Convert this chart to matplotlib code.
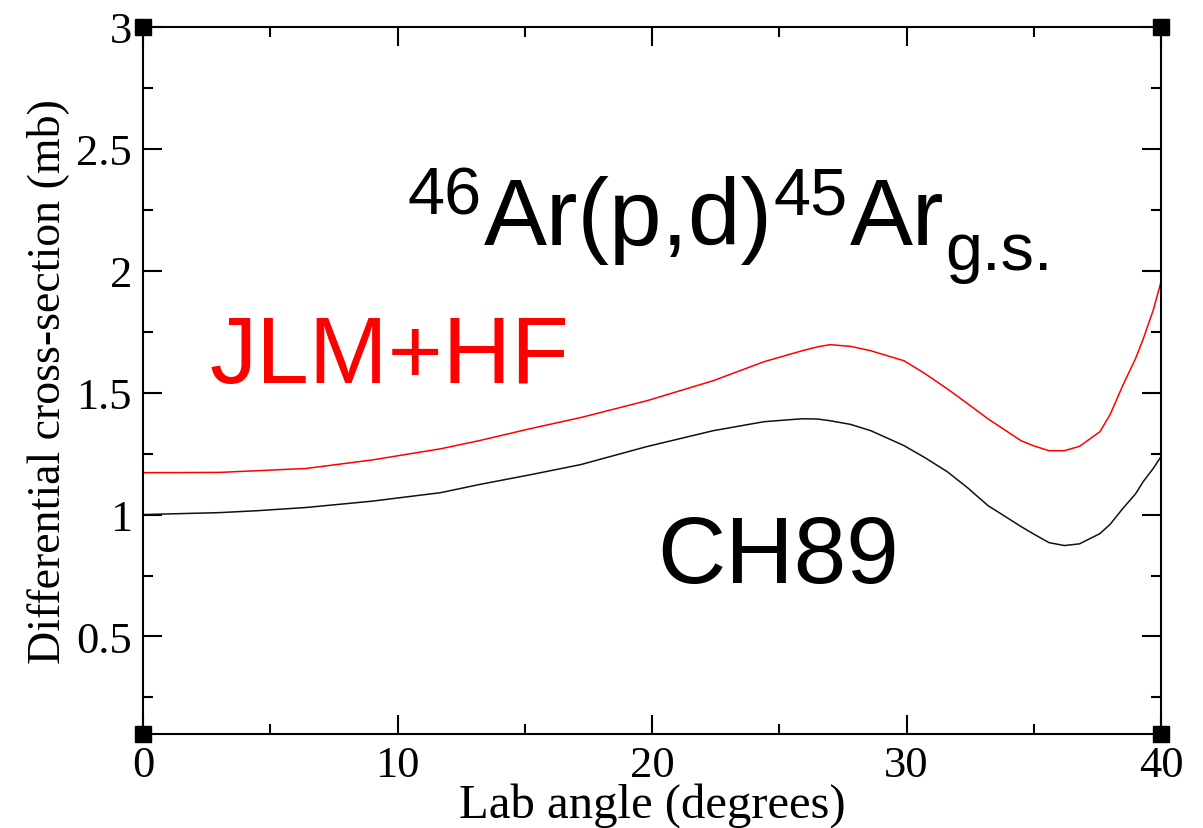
import matplotlib
matplotlib.use('Agg')
import matplotlib.pyplot as plt
from matplotlib.ticker import MultipleLocator
from matplotlib.transforms import IdentityTransform

# lab angle (degrees) and cross-sections (mb)
angle = [0, 3, 4.5, 6.4, 9.0, 11.7, 13.2, 15.2, 17.2, 19.8, 22.4, 24.4, 25.9, 26.5,
         27.0, 27.8, 28.6, 29.9, 30.7, 31.6, 32.4, 33.2, 34.5, 35.0, 35.6, 36.2,
         36.8, 37.6, 38.0, 38.5, 39.0, 39.3, 39.7, 40]
ch89 = [1.0, 1.008, 1.016, 1.029, 1.055, 1.09, 1.123, 1.163, 1.205, 1.279, 1.344,
        1.381, 1.393, 1.392, 1.385, 1.37, 1.344, 1.283, 1.235, 1.176, 1.11, 1.037,
        0.951, 0.92, 0.885, 0.873, 0.88, 0.922, 0.96, 1.025, 1.085, 1.135, 1.19, 1.238]
jlm_hf = [1.172, 1.173, 1.18, 1.189, 1.224, 1.27, 1.303, 1.352, 1.398, 1.467, 1.549,
          1.627, 1.672, 1.688, 1.697, 1.69, 1.672, 1.631, 1.58, 1.516, 1.455, 1.393,
          1.303, 1.282, 1.262, 1.262, 1.28, 1.34, 1.41, 1.53, 1.64, 1.72, 1.84, 1.955]

xticks = [0, 10, 20, 30, 40]
yticks = [0.5, 1, 1.5, 2, 2.5, 3]
ytick_labels = ['0.5', '1', '1.5', '2', '2.5', '3']

# title pieces: text, font size, baseline shift in pixels, gap after
title_parts = [('46', 48, 30, 2), ('Ar(p,d)', 68, 0, 1), ('45', 48, 30, 2),
               ('Ar', 68, 0, 1), ('g.s.', 48, -25, 0)]

fig = plt.figure(figsize=(12.03, 8.29), dpi=100)
ax = fig.add_axes([143 / 1203, 94 / 829, 1018 / 1203, 707 / 829])

ax.plot(angle, ch89, color='#111111', lw=1.1)
ax.plot(angle, jlm_hf, color='#ff0000', lw=1.1)

ax.set_xlim(0, 40)
ax.set_ylim(0.1, 3)
ax.set_xticks(xticks)
ax.set_yticks(yticks)
ax.set_yticklabels(ytick_labels)
ax.xaxis.set_minor_locator(MultipleLocator(5))
ax.yaxis.set_minor_locator(MultipleLocator(0.25))
ax.tick_params(which='both', direction='in', top=True, right=True, width=1.5,
               labelsize=32, pad=8)
ax.tick_params(which='major', length=14)
ax.tick_params(which='minor', length=7)
for lab in ax.get_xticklabels() + ax.get_yticklabels():
    lab.set_family('Liberation Serif')
for sp in ax.spines.values():
    sp.set_linewidth(1.5)

ax.set_xlabel('Lab angle (degrees)', family='Liberation Serif', fontsize=35, labelpad=-2)
ax.set_ylabel('Differential cross-section (mb)', family='Liberation Serif',
              fontsize=33, labelpad=5)

# corner squares
ax.plot([0, 1, 0, 1], [0, 0, 1, 1], 's', color='black', ms=11,
        transform=ax.transAxes, clip_on=False)

ax.text(2.6, 1.545, 'JLM+HF', color='#ff0000', family='Liberation Sans',
        fontsize=68, va='baseline')
ax.text(20.2, 0.725, 'CH89', color='black', family='Liberation Sans',
        fontsize=68, va='baseline')

# title built piece by piece so the scripts keep tight spacing
r = fig.canvas.get_renderer()
x0, y0 = ax.transData.transform((10.4, 2.11))
cx = x0
for s, fs, dy, gap in title_parts:
    t = fig.text(cx, y0 + dy, s, transform=IdentityTransform(), fontsize=fs,
                 family='Liberation Sans', va='baseline', color='black')
    cx += t.get_window_extent(r).width + gap

fig.savefig('out.png', dpi=100)
